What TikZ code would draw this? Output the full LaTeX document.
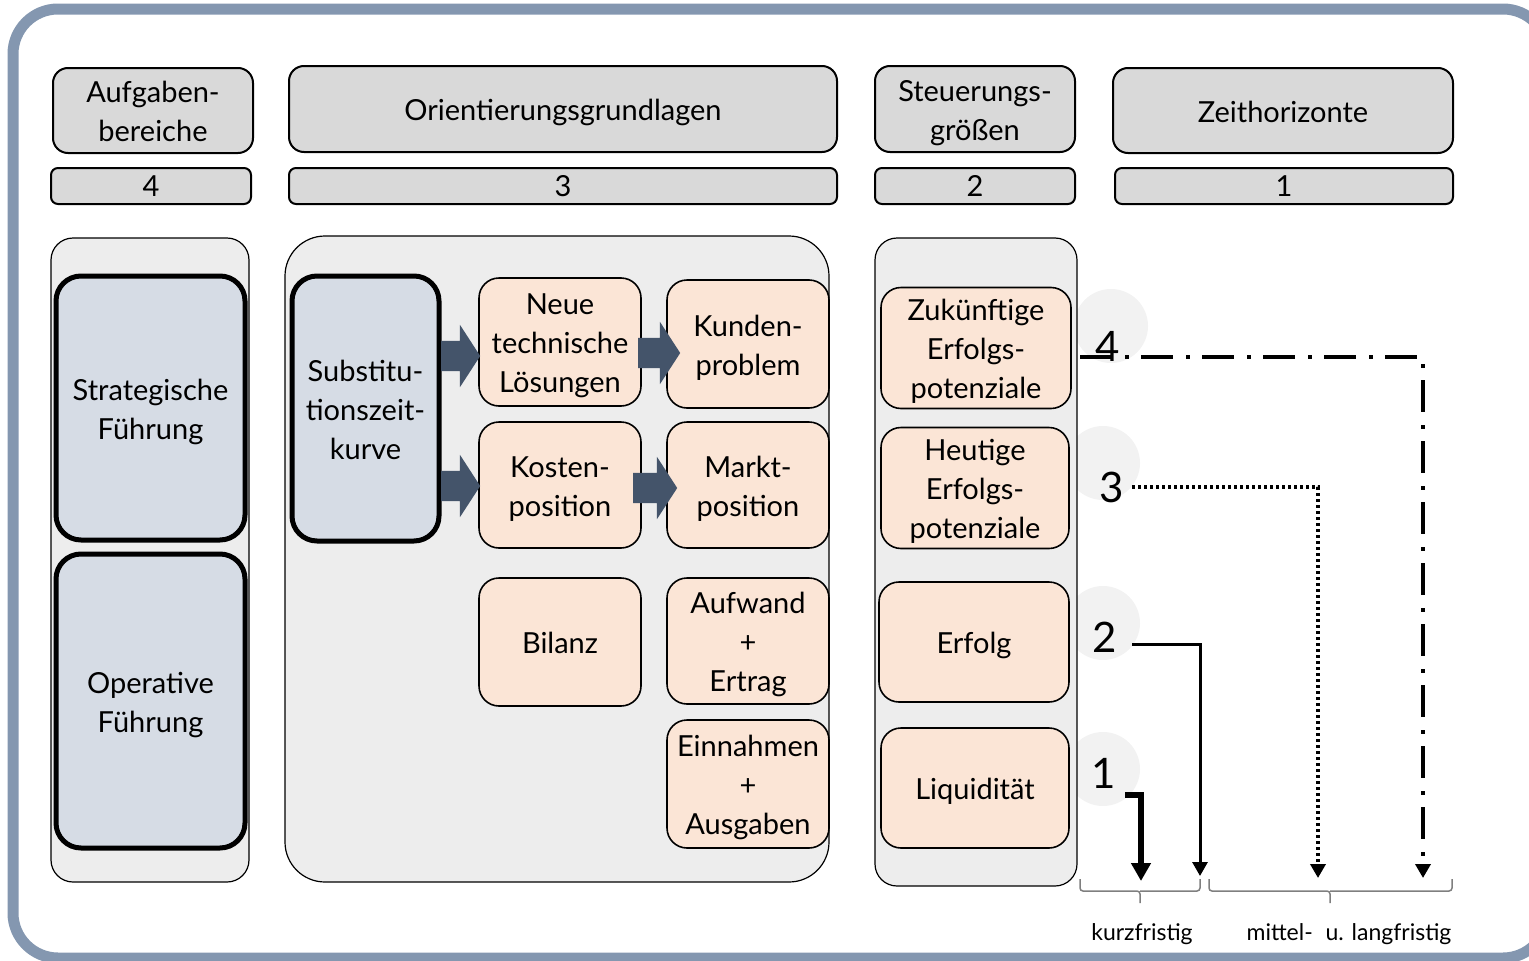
\documentclass[tikz,border=0pt]{standalone}
\usepackage{fontspec}
\setmainfont{Lato}
\usetikzlibrary{arrows.meta,shapes.arrows}
\definecolor{frameblue}{HTML}{8497B0}
\definecolor{headgray}{HTML}{D9D9D9}
\definecolor{panelgray}{HTML}{EDEDED}
\definecolor{boxblue}{HTML}{D6DCE5}
\definecolor{peach}{HTML}{FBE5D6}
\definecolor{arrowblue}{HTML}{44546A}
\definecolor{circlegray}{HTML}{F2F2F2}
\definecolor{bracegray}{HTML}{7F7F7F}

\begin{document}
\begin{tikzpicture}[x=1pt,y=-1pt,
    font=\fontsize{29}{39}\selectfont,
    lines/.style={align=center, inner sep=2pt, text width=#1,
      execute at begin node={\rule{0pt}{31pt}}, execute at end node={\rule[-8pt]{0pt}{8pt}}},
    head/.style={draw, line width=2pt, fill=headgray, rounded corners=15pt, lines=#1},
    head/.default=180pt,
    bar/.style={draw, line width=2pt, fill=headgray, rounded corners=7pt, minimum height=36pt, inner sep=0pt},
    panel/.style={draw, line width=1.2pt, fill=panelgray, rounded corners=22pt},
    bluebox/.style={draw, line width=5pt, fill=boxblue, rounded corners=25pt, lines=#1},
    bluebox/.default=178pt,
    peachbox/.style={draw, line width=1.6pt, fill=peach, rounded corners=20pt, lines=152pt},
    barrow/.style={single arrow, fill=arrowblue, anchor=tail, inner xsep=0pt, inner ysep=15pt,
      single arrow head extend=16pt, single arrow tip angle=114, single arrow head indent=0pt},
    dot/.style={circle, fill=circlegray, minimum size=74pt, inner sep=0pt},
    num/.style={font=\fontsize{42}{42}\selectfont, inner sep=0pt},
    tip/.style={-{Triangle[width=15pt,length=14pt]}},
    brace/.style={draw=bracegray, line width=1.5pt, rounded corners=3pt},
    term/.style={font=\fontsize{23}{26}\selectfont}
  ]
  \useasboundingbox (0,0) rectangle (1529,961);
  % frame
  \draw[frameblue, line width=11pt, rounded corners=45pt] (13,9) rectangle (1548,958);

  % headers
  \node[head, minimum width=200pt, minimum height=85pt] (aufg) at (153,110.5) {Aufgaben-\\bereiche};
  \node[head=500pt, minimum width=548pt, minimum height=86pt] (orient) at (563,109) {Orientierungsgrundlagen};
  \node[head, minimum width=200pt, minimum height=86pt] (steuer) at (975,109) {Steuerungs-\\größen};
  \node[head=300pt, minimum width=340pt, minimum height=85pt] (zeit) at (1283,110.5) {Zeithorizonte};
  \foreach \x/\w/\n in {151/200/4, 563/548/3, 975/200/2, 1284/338/1}
    \node[bar, minimum width=\w pt] (b\n) at (\x,186) {\n};

  % circles behind the panels
  \node[dot] (c4) at (1111,326) {};
  \node[dot] (c3) at (1103,463) {};
  \node[dot] (c2) at (1103,623) {};
  \node[dot] (c1) at (1103,769) {};

  % panels
  \node[panel, minimum width=198pt, minimum height=644pt] (p1) at (150,560) {};
  \node[panel, minimum width=544pt, minimum height=646pt, rounded corners=40pt] (p2) at (557,559) {};
  \node[panel, minimum width=202pt, minimum height=648pt] (p3) at (976,562) {};

  % Aufgabenbereiche
  \node[bluebox, minimum width=189pt, minimum height=264pt] (strat) at (150.5,408) {Strategische\\Führung};
  \node[bluebox, minimum width=189pt, minimum height=294pt] (oper) at (150.5,701) {Operative\\Führung};

  % Orientierungsgrundlagen
  \node[bluebox=138pt, minimum width=147pt, minimum height=265pt] (subst) at (365.5,408.5) {Substitu-\\tionszeit-\\kurve};
  \node[peachbox, minimum width=162pt, minimum height=128pt] (neue) at (560,342) {Neue\\technische\\Lösungen};
  \node[peachbox, minimum width=162pt, minimum height=128pt] (kunden) at (748,344) {Kunden-\\problem};
  \node[peachbox, minimum width=162pt, minimum height=126pt] (kosten) at (560,485) {Kosten-\\position};
  \node[peachbox, minimum width=162pt, minimum height=126pt] (markt) at (748,485) {Markt-\\position};
  \node[peachbox, minimum width=162pt, minimum height=128pt] (bilanz) at (560,642) {Bilanz};
  \node[peachbox, minimum width=162pt, minimum height=126pt] (aufwand) at (748,641) {Aufwand\\+\\Ertrag};
  \node[peachbox, minimum width=162pt, minimum height=128pt] (einn) at (748,784) {Einnahmen\\+\\Ausgaben};

  \node[barrow, minimum height=39pt] (ar1) at (441,356) {};
  \node[barrow, minimum height=39pt] (ar2) at (441,486) {};
  \node[barrow, minimum height=42pt] (ar3) at (638,353) {};
  \node[barrow, minimum height=44pt] (ar4) at (633,488) {};

  % Steuerungsgroessen
  \node[peachbox, minimum width=190pt, minimum height=120pt] (zuk) at (976,348) {Zukünftige\\Erfolgs-\\potenziale};
  \node[peachbox, minimum width=188pt, minimum height=120pt] (heut) at (975,488) {Heutige\\Erfolgs-\\potenziale};
  \node[peachbox, minimum width=190pt, minimum height=120pt] (erfolg) at (974,642) {Erfolg};
  \node[peachbox, minimum width=188pt, minimum height=120pt] (liqu) at (975,788) {Liquidität};

  % Zeithorizonte
  \coordinate (s4) at (1080,357);  \coordinate (e4) at (1423,878);
  \coordinate (s3) at (1132,487);  \coordinate (e3) at (1318,878);
  \coordinate (s2) at (1132,644);  \coordinate (e2) at (1200,876);
  \coordinate (s1) at (1125,795);  \coordinate (e1) at (1141,881);
  \draw[tip, line width=4pt, dash pattern=on 32pt off 13pt on 4pt off 12pt] (s4) -| (e4);
  \draw[tip, line width=3.5pt, dash pattern=on 3pt off 3pt] (s3) -| (e3);
  \draw[tip, line width=3pt] (s2) -| (e2);
  \draw[-{Triangle[width=19pt,length=18pt]}, line width=6pt] (s1) -| (e1);

  \node[num] (n4) at (1108,346) {4};
  \node[num] (n3) at (1112,487) {3};
  \node[num] (n2) at (1105,637) {2};
  \node[num] (n1) at (1104,773) {1};

  % Klammern
  \draw[brace] (1080,879) |- (1140,891) -- (1140,903);
  \draw[brace] (1140,891) -| (1200,879);
  \draw[brace] (1209,879) |- (1330,891) -- (1330,903);
  \draw[brace] (1330,891) -| (1452,879);
  \node[term] (kurz) at (1142,934) {kurzfristig};
  \node[term] (lang) at (1349,934) {mittel-\hspace{0.3em} u. langfristig};
\end{tikzpicture}
\end{document}
